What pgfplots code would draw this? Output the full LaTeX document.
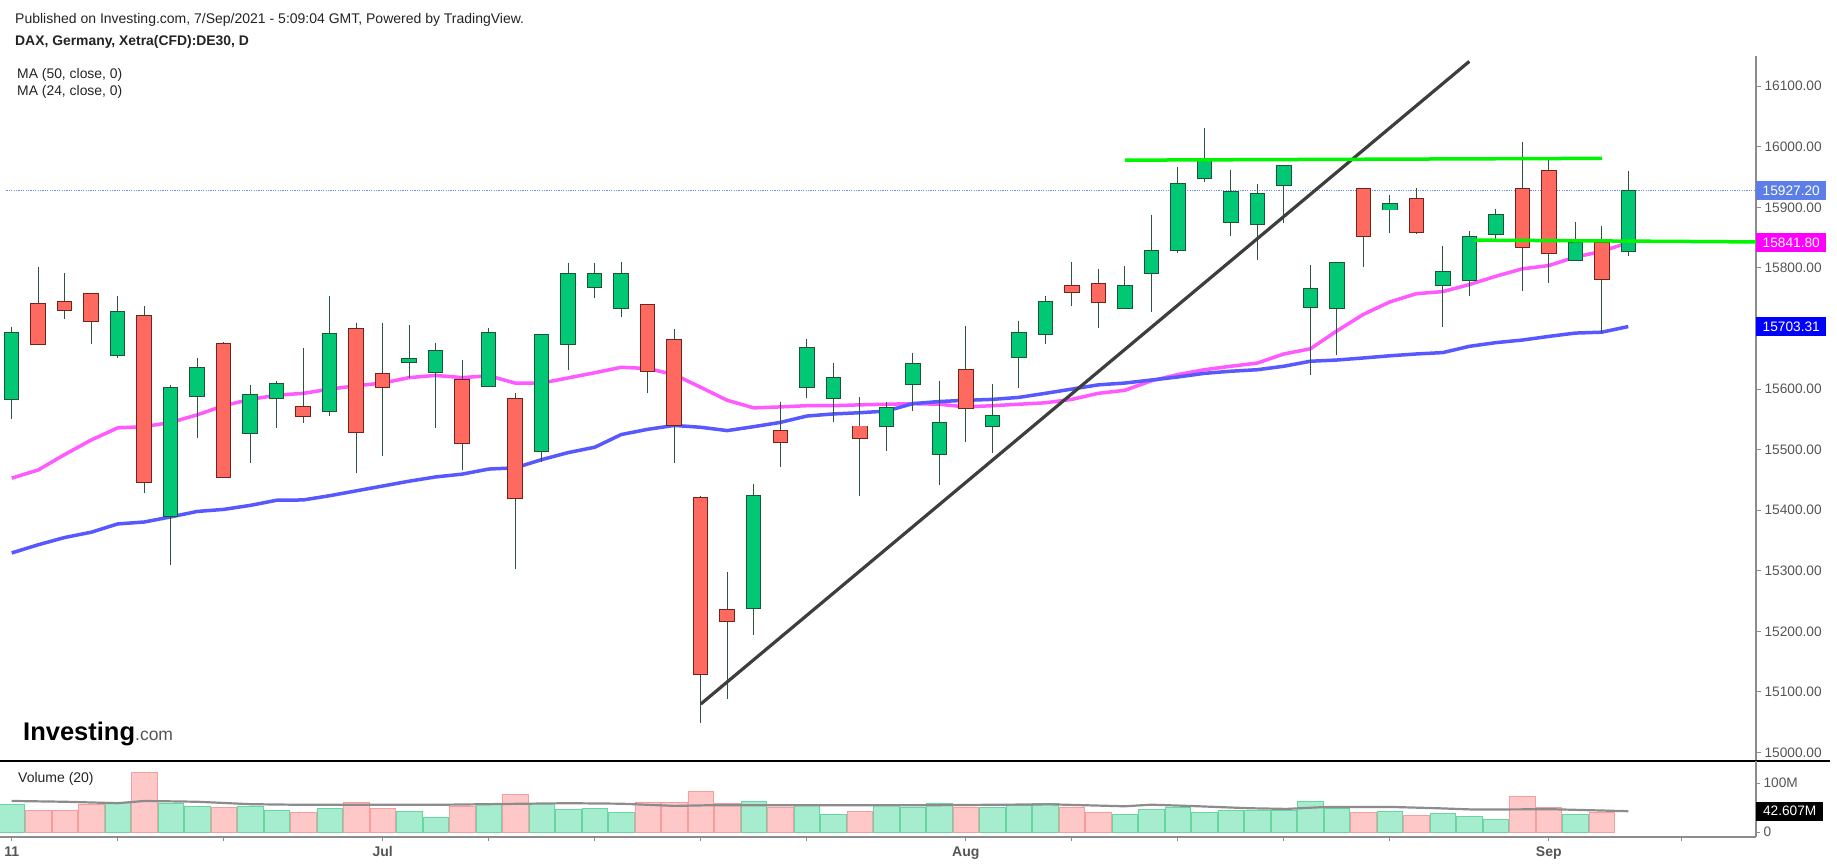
\documentclass[border=0pt]{standalone}
\usepackage{fontspec}
\setmainfont{Liberation Sans}
\usepackage{pgfplots}
\usepackage{pgfplotstable}
\pgfplotsset{compat=1.18}
\definecolor{gfill}{RGB}{2,199,116}
\definecolor{gedge}{RGB}{28,84,52}
\definecolor{rfill}{RGB}{255,106,96}
\definecolor{redge}{RGB}{112,36,30}
\definecolor{wick}{RGB}{46,84,62}
\definecolor{maM}{RGB}{255,90,255}
\definecolor{maB}{RGB}{88,88,255}
\definecolor{trend}{RGB}{62,62,62}
\definecolor{lvl}{RGB}{0,245,0}
\definecolor{dotc}{RGB}{110,140,232}
\definecolor{vg}{RGB}{166,236,207}
\definecolor{vge}{RGB}{104,214,160}
\definecolor{vr}{RGB}{255,200,200}
\definecolor{vre}{RGB}{246,158,158}
\definecolor{vma}{RGB}{140,140,140}
\definecolor{axg}{RGB}{140,140,140}
\definecolor{tlab}{RGB}{85,85,85}
\definecolor{txt}{RGB}{35,35,35}
\definecolor{boxA}{RGB}{92,126,230}
\definecolor{boxM}{RGB}{255,0,255}
\definecolor{boxB}{RGB}{0,0,255}

% green (rising) candles: index, open, high, low, close
\pgfplotstableread{
x o h l c
0 15583 15703 15550 15692
4 15656 15753.5 15651 15728
6 15391 15607 15310 15602
7 15588 15651 15519 15635
9 15527 15607 15478 15590
10 15585 15614 15535 15609
12 15564 15753.5 15555 15691
15 15645 15705.5 15618.5 15650
16 15629 15675.4 15535 15662.3
18 15605.5 15700.7 15605.5 15693
20 15497 15690.4 15480 15689
21 15674.7 15807.5 15632 15790.4
22 15769 15807.5 15751 15790
23 15733.6 15810 15718.5 15790
28 15238.4 15444 15194 15423
30 15603.4 15682 15585 15668.5
31 15585 15642.5 15545 15618.5
33 15538.4 15578 15498.6 15569
34 15608.2 15660.3 15563.7 15642
35 15492.5 15613.7 15442.5 15544.6
37 15538.4 15609 15494 15555
38 15653.4 15713 15601.4 15693
39 15690.4 15754 15674 15744
42 15733.6 15803.4 15733.6 15771
43 15792 15887.7 15728 15827.4
44 15829 15966.4 15824.7 15939
45 15949.3 16031.5 15942.5 15978
46 15876 15961.6 15852.7 15926
47 15872.6 15939 15813.7 15922
48 15936.3 15970 15874 15968
49 15736.3 15805.5 15624 15766
50 15733.6 15809 15657 15809
52 15896.6 15920.5 15857 15906
54 15772.6 15835.6 15702.7 15794
55 15779.5 15860.3 15754 15851.4
56 15856 15898 15848 15887
59 15813.7 15875.3 15812.3 15842
61 15828 15959.6 15819 15927.2
}\greenc

% red (falling) candles
\pgfplotstableread{
x o h l c
1 15740.4 15802 15674 15674
2 15744 15792 15716 15730
3 15757.5 15759 15675 15712
5 15720 15737 15429 15447
8 15675 15677 15455 15455.5
11 15570.6 15668.5 15544 15555
13 15699 15709.6 15461 15529
14 15625 15709.6 15490 15603.4
17 15614.4 15648 15466 15511
19 15583 15593 15303.5 15420.6
24 15738.4 15740 15593 15629.5
25 15682 15699 15478 15540.4
26 15421 15424 15048 15130
27 15235 15298.6 15089 15216.5
29 15531.5 15579.5 15471 15512
32 15538.4 15586.3 15423 15519
36 15631 15704 15512 15569
40 15771 15810 15737 15761
41 15773.3 15798.6 15700.7 15744
51 15931 15931 15802 15853.4
53 15913.7 15932 15855.5 15860
57 15931 16007.5 15762.3 15835
58 15959.6 15982 15774.7 15824.7
60 15842 15868.5 15692.5 15781.5
}\redc

% MA 24
\pgfplotstableread{
x v
0 15453
1 15466.5
2 15492
3 15516
4 15536
5 15538
6 15545
7 15557.5
8 15572.6
9 15583
10 15590
11 15593
12 15600
13 15605.5
14 15610
15 15619
16 15622.6
17 15619
18 15622
19 15610
20 15610
21 15618.5
22 15627
23 15636
24 15634
25 15624
26 15603
27 15581.5
28 15569
29 15570.6
30 15572.6
31 15572.6
32 15574
33 15575
34 15576
35 15575
36 15570.6
37 15572.6
38 15575
39 15577.4
40 15583
41 15593
42 15598
43 15613.6
44 15624
45 15632
46 15637.7
47 15643
48 15658
49 15666.5
50 15696
51 15723.3
52 15744
53 15757.5
54 15761
55 15772.6
56 15786.3
57 15798.6
58 15804
59 15818
60 15827.4
61 15841.8
}\maA

% MA 50
\pgfplotstableread{
x v
0 15329.5
1 15343
2 15355
3 15363.7
4 15377.4
5 15380.6
6 15389
7 15398
8 15401.4
9 15408
10 15416.5
11 15417
12 15424
13 15432
14 15440
15 15448
16 15455
17 15459.6
18 15468
19 15470
20 15483.6
21 15495.2
22 15504
23 15525
24 15533.6
25 15540
26 15537
27 15531.5
28 15538
29 15545
30 15555.5
31 15559
32 15561
33 15563.7
34 15576
35 15579.5
36 15581.5
37 15583
38 15586.3
39 15593
40 15600
41 15607
42 15610
43 15615
44 15620
45 15626
46 15629.5
47 15632
48 15637.7
49 15646
50 15648
51 15651.4
52 15655
53 15658
54 15660.3
55 15670.6
56 15676.7
57 15681
58 15687
59 15692.5
60 15694
61 15703.31
}\maB

% volume (millions)
\pgfplotstableread{
x v
0 55.7
4 61.6
6 58.9
7 51.8
9 51.8
10 43.9
12 49.1
15 41.8
16 29.5
18 58.9
20 58.9
21 46.6
22 49.1
23 39.3
28 63.3
30 54.7
31 36
33 54.7
34 50
35 59.3
37 50
38 54.7
39 59.3
42 36
43 46
44 51.3
45 39.3
46 44
47 43.3
48 43.3
49 63.3
50 48.7
52 41.3
54 38.7
55 31.3
56 25.3
59 36
}\volG

\pgfplotstableread{
x v
1 43.9
2 43.9
3 57
5 122.6
8 49.8
11 41.2
13 61.6
14 49.1
17 51.8
19 76.7
24 61.6
25 59.7
26 83.3
27 59.3
29 50
32 41.3
36 51.3
40 51.3
41 39.3
51 39.3
53 33.3
57 73.3
58 50.7
60 39.3
}\volR

\pgfplotstableread{
x v
0 63.6
2 62
4 59
5 63.6
7 62
9 57
11 55.7
13 55.7
16 55.7
19 57.7
21 59
23 58
25 53.5
26.5 55
29.4 55
35 55
39.2 56.7
42 52.7
43 56
44.8 52.7
46.7 48.7
48.1 47.3
49.6 51.3
52.1 51.3
53.8 48.7
55.2 46
58.1 46.7
61 42.6
}\volMA

\pgfplotsset{
  wickplot/.style={draw=none, mark=none, forget plot,
    error bars/.cd, y dir=minus, y explicit, error mark=none,
    error bar style={draw=wick, line width=1.3pt}},
  bodyplot/.style 2 args={draw=none, mark=none, forget plot,
    error bars/.cd, y dir=both, y explicit, error mark=none,
    error bar style={draw=#1, line width=#2}},
}

\begin{document}
\begin{tikzpicture}
\useasboundingbox (0pt,0pt) rectangle (1837pt,866pt);

% ---------------- price panel ----------------
\begin{axis}[
  at={(0pt,105pt)}, anchor=south west,
  width=1756pt, height=705pt, scale only axis,
  xmin=-0.4415, xmax=65.82, ymin=14986, ymax=16150,
  clip mode=individual,
  axis x line=none,
  axis y line=right,
  y axis line style={-, draw=axg, line width=1.3pt},
  ytick={15000,15100,15200,15300,15400,15500,15600,15800,15900,16000,16100},
  tick align=outside, major tick length=5pt,
  ytick style={draw=axg, line width=1pt},
  scaled y ticks=false,
  yticklabel style={font=\fontsize{13.7}{16}\selectfont, text=tlab, anchor=west,
    /pgf/number format/fixed, /pgf/number format/fixed zerofill,
    /pgf/number format/precision=2, /pgf/number format/1000 sep={},
    /pgf/number format/assume math mode=true},
]
% dotted last-price line
\addplot [dotc, line width=1pt, dash pattern=on 1.2pt off 1.2pt] coordinates {(-0.2,15927.2) (65.82,15927.2)};
% moving averages
\addplot [maM, line width=3.5pt, line join=round] table [x=x, y=v] {\maA};
\addplot [maB, line width=3.5pt, line join=round] table [x=x, y=v] {\maB};
% wicks
\addplot [wickplot] table [x=x, y=h, y error minus expr=\thisrow{h}-\thisrow{l}] {\greenc};
\addplot [wickplot] table [x=x, y=h, y error minus expr=\thisrow{h}-\thisrow{l}] {\redc};
% bodies: border then fill
\addplot [bodyplot={gedge}{15.5pt}]
  table [x=x, y expr={(\thisrow{o}+\thisrow{c})/2}, y error expr={abs(\thisrow{c}-\thisrow{o})/2+1.6}] {\greenc};
\addplot [bodyplot={gfill}{13.5pt}]
  table [x=x, y expr={(\thisrow{o}+\thisrow{c})/2}, y error expr={abs(\thisrow{c}-\thisrow{o})/2}] {\greenc};
\addplot [bodyplot={redge}{15.5pt}]
  table [x=x, y expr={(\thisrow{o}+\thisrow{c})/2}, y error expr={abs(\thisrow{c}-\thisrow{o})/2+1.6}] {\redc};
\addplot [bodyplot={rfill}{13.5pt}]
  table [x=x, y expr={(\thisrow{o}+\thisrow{c})/2}, y error expr={abs(\thisrow{c}-\thisrow{o})/2}] {\redc};
% drawn trend and levels
\addplot [trend, line width=3.2pt] coordinates {(26,15080) (55,16141)};
\addplot [lvl, line width=3.5pt] coordinates {(42,15978) (60,15981)};
\addplot [lvl, line width=3.5pt] coordinates {(55.2,15846) (65.82,15843)};
% price boxes
\node [fill=boxA, text=white, anchor=west, minimum width=70pt, minimum height=19pt, inner sep=0pt,
  font=\fontsize{13.7}{16}\selectfont] at (axis cs:65.82,15927.2) {15927.20};
\node [fill=boxM, text=white, anchor=west, minimum width=70pt, minimum height=19pt, inner sep=0pt,
  font=\fontsize{13.7}{16}\selectfont] at (axis cs:65.82,15841.8) {15841.80};
\node [fill=boxB, text=white, anchor=west, minimum width=70pt, minimum height=19pt, inner sep=0pt,
  font=\fontsize{13.7}{16}\selectfont] at (axis cs:65.82,15703.31) {15703.31};
\end{axis}

% separator between the panels (runs under the price scale too)
\draw [black, line width=2pt] (0pt,105pt) -- (1830pt,105pt);

% ---------------- volume panel ----------------
\begin{axis}[
  at={(0pt,29pt)}, anchor=south west,
  width=1756pt, height=76pt, scale only axis,
  xmin=-0.4415, xmax=65.82, ymin=-10.2, ymax=145.5,
  clip mode=individual,
  axis x line=bottom, axis y line=right,
  axis line style={-, draw=axg, line width=1.3pt},
  xtick={0,4,8,14,18,22,26,30,36,40,44,48,52,58,63},
  xticklabels={11,,,Jul,,,,,Aug,,,,,Sep,},
  ytick={0,100}, yticklabels={0,100M},
  tick align=outside, major tick length=4pt,
  tick style={draw=axg, line width=1pt},
  xticklabel style={font=\bfseries\fontsize{14}{16}\selectfont, text=tlab, yshift=-2pt},
  yticklabel style={font=\fontsize{13.7}{16}\selectfont, text=tlab, anchor=west},
]
\addplot [ybar, bar width=25.5pt, bar shift=0pt, fill=vg, draw=vge, line width=0.8pt] table [x=x, y=v] {\volG};
\addplot [ybar, bar width=25.5pt, bar shift=0pt, fill=vr, draw=vre, line width=0.8pt] table [x=x, y=v] {\volR};
\addplot [vma, line width=2.2pt] table [x=x, y=v] {\volMA};
\node [fill=black, text=white, anchor=west, minimum width=67pt, minimum height=19pt, inner sep=0pt,
  font=\fontsize{13.7}{16}\selectfont] at (axis cs:65.82,42.607) {42.607M};
\end{axis}

% ---------------- texts ----------------
\node [anchor=west, inner sep=0pt, font=\fontsize{14}{16}\selectfont, text=txt] at (15pt,846pt) {Published on Investing.com, 7/Sep/2021 - 5:09:04 GMT, Powered by TradingView.};
\node [anchor=west, inner sep=0pt, font=\bfseries\fontsize{13.9}{16}\selectfont, text=txt] at (15pt,823.7pt) {DAX, Germany, Xetra(CFD):DE30, D};
\node [anchor=west, inner sep=0pt, font=\fontsize{13.9}{16}\selectfont, text=txt] at (17pt,791pt) {MA (50, close, 0)};
\node [anchor=west, inner sep=0pt, font=\fontsize{13.9}{16}\selectfont, text=txt] at (17pt,773.7pt) {MA (24, close, 0)};
\node [anchor=west, inner sep=0pt, font=\fontsize{14}{16}\selectfont, text=txt] at (18pt,87pt) {Volume (20)};
\node [anchor=base west, inner sep=0pt] at (23pt,125pt) {\fontsize{25.5}{26}\selectfont\bfseries Investing\fontsize{17.5}{18}\selectfont\mdseries\color{tlab}.com};
\end{tikzpicture}
\end{document}
